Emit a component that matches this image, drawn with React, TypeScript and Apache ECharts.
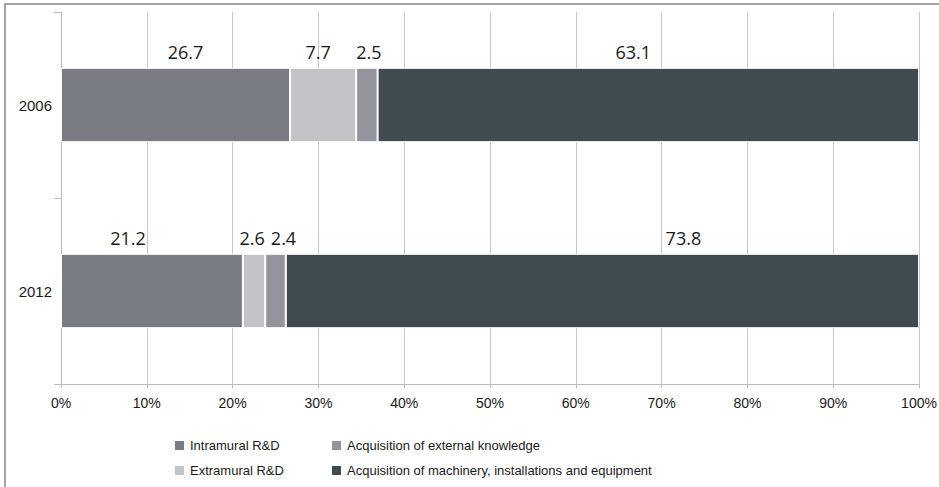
import React, { useEffect, useRef } from "react";
import * as echarts from "echarts";

// Share of innovation expenditure by type (%), per survey year
const years = ["2006", "2012"];
const seriesNames = [
  "Intramural R&D",
  "Extramural R&D",
  "Acquisition of external knowledge",
  "Acquisition of machinery, installations and equipment",
];
const intramural = [26.7, 21.2];
const extramural = [7.7, 2.6];
const externalKnowledge = [2.5, 2.4];
const machinery = [63.1, 73.8];
const xTicks = [0, 10, 20, 30, 40, 50, 60, 70, 80, 90, 100];

const colors = ["#797c83", "#c1c3c6", "#94959c", "#404a51"];
// horizontal nudges of the value labels (px), per series then per year
const labelShift = [
  [10, -24],
  [-5, -2],
  [2, 8],
  [-15, 81],
];

const axisGray = "#b9b9be";
const textFont = "'Liberation Sans', Arial, sans-serif";

export default function App() {
  const ref = useRef<HTMLDivElement>(null);

  useEffect(() => {
    if (!ref.current) return;
    const chart = echarts.init(ref.current, null, { renderer: "svg" });
    const values = [intramural, extramural, externalKnowledge, machinery];

    chart.setOption({
      animation: false,
      backgroundColor: "#ffffff",
      grid: {
        left: 61,
        right: 20,
        top: 12,
        bottom: 103,
        containLabel: false,
        outerBoundsMode: "none",
      },
      xAxis: {
        type: "value",
        min: 0,
        max: 100,
        interval: 10,
        axisLine: { show: true, lineStyle: { color: axisGray, width: 1 } },
        axisTick: { show: true, length: 4, lineStyle: { color: axisGray } },
        axisLabel: {
          formatter: (v: number) => (xTicks.includes(v) ? `${v}%` : ""),
          color: "#1a1a1a",
          fontFamily: textFont,
          fontSize: 14,
          margin: 12,
        },
        splitLine: { show: true, lineStyle: { color: "#c6c6cb", width: 1 } },
      },
      yAxis: {
        type: "category",
        data: years,
        inverse: true,
        axisLine: { show: true, lineStyle: { color: axisGray, width: 1 } },
        axisTick: { show: true, length: 7, lineStyle: { color: axisGray } },
        axisLabel: {
          color: "#1a1a1a",
          fontFamily: textFont,
          fontSize: 15,
          margin: 9,
        },
      },
      legend: [
        {
          data: seriesNames.slice(0, 2),
          orient: "vertical",
          left: 168,
          top: 434,
          itemWidth: 11,
          itemHeight: 11,
          itemGap: 12,
          icon: "rect",
          textStyle: { color: "#1a1a1a", fontFamily: textFont, fontSize: 13 },
        },
        {
          data: seriesNames.slice(2),
          orient: "vertical",
          left: 325,
          top: 434,
          itemWidth: 11,
          itemHeight: 11,
          itemGap: 12,
          icon: "rect",
          textStyle: { color: "#1a1a1a", fontFamily: textFont, fontSize: 13 },
        },
      ],
      graphic: [
        {
          type: "line",
          shape: { x1: 4, y1: 4, x2: 939, y2: 4 },
          style: { stroke: "#a3a3a3", lineWidth: 2 },
        },
        {
          type: "line",
          shape: { x1: 5, y1: 4, x2: 5, y2: 487 },
          style: { stroke: "#a3a3a3", lineWidth: 2 },
        },
      ],
      series: seriesNames.map((name, i) => ({
        name,
        type: "bar",
        stack: "total",
        barWidth: "40%",
        itemStyle: { color: colors[i], borderColor: "#ffffff", borderWidth: 1 },
        label: {
          show: true,
          position: "top",
          distance: 7,
          color: "#1a1a1a",
          fontFamily: "'Open Sans', 'Noto Sans', sans-serif",
          fontSize: 18,
        },
        data: values[i].map((v, j) => ({
          value: v,
          label: { offset: [labelShift[i][j], 0] },
        })),
      })),
    });

    return () => chart.dispose();
  }, []);

  return (
    <div
      ref={ref}
      style={{ width: 939, height: 487, position: "absolute", left: 0, top: 0 }}
    />
  );
}
